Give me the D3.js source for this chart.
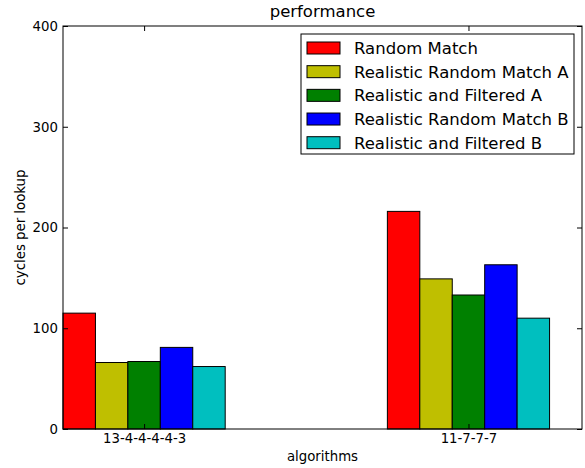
<!DOCTYPE html>
<html>
<head>
<meta charset="utf-8">
<script src="https://cdn.jsdelivr.net/npm/d3@7"></script>
<style>
  html, body { margin: 0; padding: 0; background: #fff; }
  svg { display: block; font-family: "DejaVu Sans", sans-serif; }
</style>
</head>
<body>
<svg id="chart" width="585" height="468"></svg>
<script>
const categories = ["13-4-4-4-4-3", "11-7-7-7"];
const seriesNames = ["Random Match", "Realistic Random Match A", "Realistic and Filtered A", "Realistic Random Match B", "Realistic and Filtered B"];
const seriesColors = ["#ff0000", "#bfbf00", "#008000", "#0000ff", "#00bfbf"];
const randomMatch = [115, 216];
const realisticRandomA = [66, 149];
const realisticFilteredA = [67, 133];
const realisticRandomB = [81, 163];
const realisticFilteredB = [62, 110];
const yTicks = [0, 100, 200, 300, 400];
const titleText = "performance";
const xLabel = "algorithms";
const yLabel = "cycles per lookup";

const series = [randomMatch, realisticRandomA, realisticFilteredA, realisticRandomB, realisticFilteredB];
const barWidth = 0.1;

const svg = d3.select("#chart");
const L = 63, R = 582, T = 26, B = 429;

const x = d3.scaleLinear().domain([0, 1.6]).range([L, R]);
const y = d3.scaleLinear().domain([0, 400]).range([B, T]);

// Bars
const bars = [];
categories.forEach((c, gi) => {
  series.forEach((s, si) => {
    bars.push({ g: gi, s: si, v: s[gi] });
  });
});
svg.append("g").selectAll("rect").data(bars).join("rect")
  .attr("x", d => x(d.g + d.s * barWidth))
  .attr("y", d => y(d.v))
  .attr("width", d => x(d.g + (d.s + 1) * barWidth) - x(d.g + d.s * barWidth))
  .attr("height", d => y(0) - y(d.v))
  .attr("fill", d => seriesColors[d.s])
  .attr("stroke", "#000")
  .attr("stroke-width", 1);

const tickPos = categories.map((c, i) => i + 0.25);

// Axes
const xAxis = d3.axisBottom(x).tickValues(tickPos).tickFormat((d, i) => categories[i]).tickSize(-5).tickPadding(5);
const gx = svg.append("g").attr("transform", `translate(0,${B})`).call(xAxis);
const xTop = d3.axisTop(x).tickValues(tickPos).tickFormat("").tickSize(-5);
const gxt = svg.append("g").attr("transform", `translate(0,${T})`).call(xTop);
const yAxis = d3.axisLeft(y).tickValues(yTicks).tickSize(-5).tickPadding(5);
const gy = svg.append("g").attr("transform", `translate(${L},0)`).call(yAxis);
const yRight = d3.axisRight(y).tickValues(yTicks).tickFormat("").tickSize(-5);
const gyr = svg.append("g").attr("transform", `translate(${R},0)`).call(yRight);

[gx, gxt, gy, gyr].forEach(g => {
  g.select(".domain").remove();
  g.selectAll("line").attr("stroke", "#000");
  g.selectAll("text").attr("fill", "#000").style("font-size", "13.3px").style("font-family", "DejaVu Sans, sans-serif");
});
gx.selectAll("text").attr("dy", "0.71em");

// frame
svg.append("rect").attr("x", L).attr("y", T).attr("width", R - L).attr("height", B - T)
  .attr("fill", "none").attr("stroke", "#000").attr("stroke-width", 1);

// Title and labels
svg.append("text").attr("x", (L + R) / 2).attr("y", 17).attr("text-anchor", "middle")
  .style("font-size", "16.5px").text(titleText);
svg.append("text").attr("x", (L + R) / 2).attr("y", 461).attr("text-anchor", "middle")
  .style("font-size", "13.3px").text(xLabel);
svg.append("text").attr("transform", `translate(25,${(T + B) / 2}) rotate(-90)`).attr("text-anchor", "middle")
  .style("font-size", "13.3px").text(yLabel);

// Legend
const lg = svg.append("g");
lg.append("rect").attr("x", 301).attr("y", 34).attr("width", 273).attr("height", 120)
  .attr("fill", "#fff").attr("stroke", "#000").attr("stroke-width", 1);
const rowY = d3.scaleLinear().domain([0, 4]).range([48, 142.7]);
seriesNames.forEach((n, i) => {
  lg.append("rect").attr("x", 307).attr("y", rowY(i) - 6).attr("width", 33).attr("height", 12)
    .attr("fill", seriesColors[i]).attr("stroke", "#000").attr("stroke-width", 1);
  lg.append("text").attr("x", 354).attr("y", rowY(i)).attr("dy", "0.36em")
    .style("font-size", "16.5px").text(n);
});
</script>
</body>
</html>
